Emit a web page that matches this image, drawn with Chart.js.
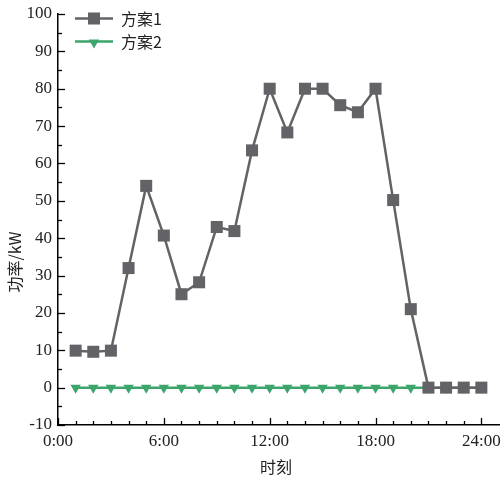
<!DOCTYPE html>
<html><head><meta charset="utf-8">
<script src="https://cdn.jsdelivr.net/npm/chart.js@4"></script>
<style>html,body{margin:0;padding:0;background:#fff}</style>
</head><body>
<canvas id="c" width="502" height="480"></canvas>
<script>
const hours = [1,2,3,4,5,6,7,8,9,10,11,12,13,14,15,16,17,18,19,20,21,22,23,24];
const plan1 = [9.9,9.6,9.9,32,54,40.7,25,28.2,43,41.9,63.5,80,68.3,80,80,75.6,73.7,80,50.2,21,0,0,0,0];
const plan2 = [0,0,0,0,0,0,0,0,0,0,0,0,0,0,0,0,0,0,0,0,0,0,0,0];
const seriesNames = ['方案1','方案2'];
const xLabelHours = [0,6,12,18,24];
const yAxisTitle = '功率/kW';
const xAxisTitle = '时刻';

const GREY = '#636367';
const GREEN = '#3ba56b';
const NUMFONT = '"Liberation Serif","Times New Roman",serif';
const CJKFONT = '"Noto Sans CJK SC","Liberation Serif",serif';

const decor = {
  id: 'decor',
  afterDraw(chart) {
    const ctx = chart.ctx, xs = chart.scales.x, ys = chart.scales.y, a = chart.chartArea;
    ctx.save();
    ctx.strokeStyle = '#000'; ctx.lineWidth = 1.3;
    for (let h = 0; h <= 24; h++) {
      const px = Math.round(xs.getPixelForValue(h)) + 0.5;
      const len = h % 6 === 0 ? 7 : 4;
      ctx.beginPath(); ctx.moveTo(px, a.bottom); ctx.lineTo(px, a.bottom - len); ctx.stroke();
    }
    for (let v = -10; v <= 100; v += 5) {
      const py = Math.round(ys.getPixelForValue(v)) + 0.5;
      const len = v % 10 === 0 ? 7 : 4;
      ctx.beginPath(); ctx.moveTo(a.left, py); ctx.lineTo(a.left + len, py); ctx.stroke();
    }
    const items = [
      {name: seriesNames[0], color: GREY, style: 'rect', r: 8.5, rot: 0},
      {name: seriesNames[1], color: GREEN, style: 'triangle', r: 6, rot: 180}
    ];
    items.forEach((it, i) => {
      const y = 18.5 + i * 23;
      ctx.strokeStyle = it.color; ctx.lineWidth = 2.5;
      ctx.beginPath(); ctx.moveTo(75, y); ctx.lineTo(113, y); ctx.stroke();
      ctx.fillStyle = it.color;
      Chart.helpers.drawPoint(ctx, {pointStyle: it.style, radius: it.r, rotation: it.rot, borderWidth: 0}, 94, y + (it.style === 'triangle' ? 1 : 0));
      ctx.fillStyle = '#222';
      ctx.font = '16px ' + CJKFONT;
      ctx.textAlign = 'left'; ctx.textBaseline = 'middle';
      ctx.fillText(it.name, 121, y);
    });
    ctx.fillStyle = '#222';
    ctx.font = '16px ' + CJKFONT;
    ctx.textAlign = 'center'; ctx.textBaseline = 'middle';
    ctx.fillText(xAxisTitle, 276, 467);
    ctx.save();
    ctx.translate(15, 262); ctx.rotate(-Math.PI / 2);
    ctx.fillText(yAxisTitle, 0, 0);
    ctx.restore();
    ctx.restore();
  }
};

new Chart(document.getElementById('c'), {
  type: 'line',
  data: {
    datasets: [
      {label: seriesNames[0], data: hours.map((h, i) => ({x: h, y: plan1[i]})),
       borderColor: GREY, backgroundColor: GREY, borderWidth: 2.5,
       pointStyle: 'rect', pointRadius: 8.5, pointBorderWidth: 0, pointHoverRadius: 8.5, tension: 0},
      {label: seriesNames[1], data: hours.map((h, i) => ({x: h, y: plan2[i]})),
       borderColor: GREEN, backgroundColor: GREEN, borderWidth: 2.5,
       pointStyle: 'triangle', pointRotation: 180, pointRadius: 6, pointBorderWidth: 0, tension: 0}
    ]
  },
  options: {
    responsive: false, animation: false,
    layout: {autoPadding: false, padding: {left: 0, top: 14, right: 3, bottom: 0}},
    plugins: {legend: {display: false}, tooltip: {enabled: false}},
    scales: {
      x: {
        type: 'linear', min: 0, max: 25,
        afterBuildTicks: s => { s.ticks = xLabelHours.map(v => ({value: v})); },
        afterFit: s => { s.height = 55; s.paddingLeft = 0; s.paddingRight = 0; },
        grid: {display: false, drawTicks: false},
        border: {display: true, color: '#000', width: 1.5},
        ticks: {padding: 6, color: '#222', font: {family: NUMFONT, size: 17}, maxRotation: 0,
                callback: v => v + ':00'}
      },
      y: {
        min: -10, max: 100,
        afterBuildTicks: s => { const t = []; for (let v = -10; v <= 100; v += 10) t.push({value: v}); s.ticks = t; },
        afterFit: s => { s.width = 58; s.paddingTop = 0; s.paddingBottom = 0; },
        grid: {display: false, drawTicks: false},
        border: {display: true, color: '#000', width: 1.5},
        ticks: {padding: 6, color: '#222', font: {family: NUMFONT, size: 17}}
      }
    }
  },
  plugins: [decor]
});
</script>
</body></html>
